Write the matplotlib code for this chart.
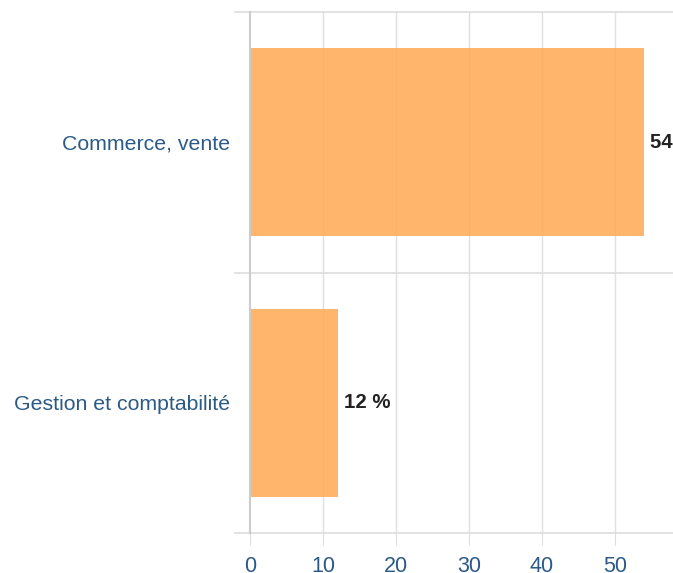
import matplotlib
matplotlib.use("Agg")
import matplotlib.pyplot as plt

categories = ["Commerce, vente", "Gestion et comptabilité"]
values = [54, 12]
value_labels = ["54 %", "12 %"]
xticks = [0, 10, 20, 30, 40, 50]

plt.rcParams['font.family'] = ['Liberation Sans', 'DejaVu Sans']

W, H = 673, 573
fig = plt.figure(figsize=(W/100, H/100), dpi=100)
ax = fig.add_axes([250/W, 1-533/H, (W-250)/W, (533-12)/H])

text_col = '#2c5a86'
ypos = list(range(len(categories)))
ax.barh(ypos, values, height=0.72, color='#ffad5b', alpha=0.9, zorder=2)
ax.set_ylim(len(categories)-0.5, -0.5)
ax.set_xlim(0, (W-250)/7.3)

ax.set_xticks(xticks)
ax.set_xticklabels([str(t) for t in xticks], color=text_col, fontsize=15.5)
ax.set_yticks(ypos)
ax.set_yticklabels(categories, color=text_col, fontsize=15.3)
ax.tick_params(axis='y', length=0, pad=14.4)
ax.tick_params(axis='x', length=8.6, color='#dddddd', pad=8.1)

for x in xticks[1:]:
    ax.axvline(x, color='#e0e0e0', lw=1, zorder=1)
for y in [-0.5, 0.5, 1.5]:
    ax.plot([-15/7.3, (W-250)/7.3], [y, y], color='#dddddd', lw=1.2, clip_on=False, zorder=1)

for s in ['top', 'right', 'bottom']:
    ax.spines[s].set_visible(False)
ax.spines['left'].set_color('#cccccc')
ax.spines['left'].set_linewidth(1.5)

for yy, v, lab in zip(ypos, values, value_labels):
    ax.text(v + 6/7.3, yy, lab, va='center', ha='left', fontsize=14.7, fontweight='bold',
            color='#222222', zorder=3, clip_on=False,
            bbox=dict(boxstyle='round,pad=0.12', fc='white', ec='none'))

fig.savefig('out.png', dpi=100)
